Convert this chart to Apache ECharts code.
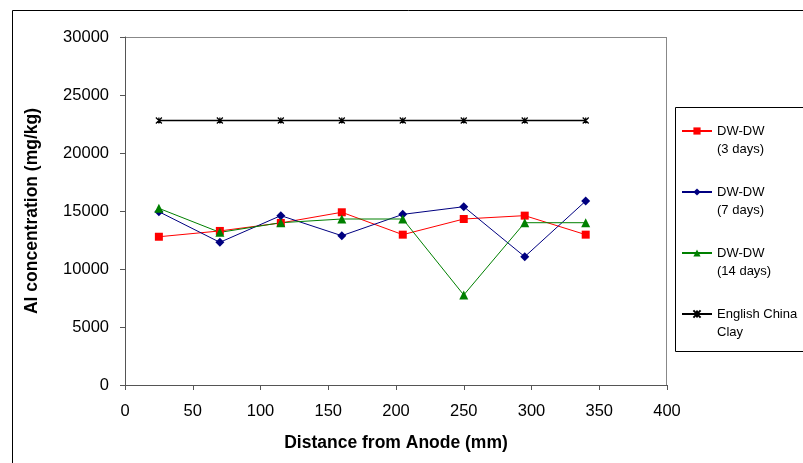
<!DOCTYPE html>
<html><head><meta charset="utf-8">
<script src="https://cdn.jsdelivr.net/npm/echarts@6/dist/echarts.min.js"></script>
<style>html,body{margin:0;padding:0;background:#fff}#c{width:803px;height:463px}</style>
</head><body><div id="c"></div>
<script>
const xValues = [25, 70, 115, 160, 205, 250, 295, 340];
const dw3 = [12780, 13280, 13970, 14890, 12960, 14310, 14600, 12960];
const dw7 = [14940, 12300, 14600, 12870, 14710, 15370, 11060, 15860];
const dw14 = [15230, 13160, 13990, 14310, 14310, 7760, 13990, 13990];
const ecc = [22800, 22800, 22800, 22800, 22800, 22800, 22800, 22800];
const seriesNames = ['DW-DW\n(3 days)', 'DW-DW\n(7 days)', 'DW-DW\n(14 days)', 'English China\nClay'];

const pair = arr => xValues.map((x, i) => [x, arr[i]]);
const F = 'Liberation Sans, Arial, sans-serif';
const chart = echarts.init(document.getElementById('c'), null, {renderer: 'canvas'});
chart.setOption({
  animation: false,
  backgroundColor: '#fff',
  graphic: [
    {type: 'rect', shape: {x: 12.5, y: 10.5, width: 800, height: 460}, style: {fill: 'none', stroke: '#000', lineWidth: 1}, z: 0},
    {type: 'rect', shape: {x: 675.5, y: 107.5, width: 140, height: 244}, style: {fill: 'none', stroke: '#000', lineWidth: 1}, z: 0},
    {type: 'line', shape: {x1: 125, y1: 37.5, x2: 667, y2: 37.5}, style: {stroke: '#888', lineWidth: 1}},
    {type: 'line', shape: {x1: 666.5, y1: 37, x2: 666.5, y2: 385}, style: {stroke: '#888', lineWidth: 1}}
  ],
  grid: {left: 125, right: 136, top: 37, bottom: 78, containLabel: false},
  legend: {
    orient: 'vertical', left: 676, top: 99, itemGap: 7, itemWidth: 30, itemHeight: 9,
    formatter: n => '\n' + n,
    textStyle: {fontFamily: F, fontSize: 13, color: '#000', lineHeight: 18},
    data: seriesNames
  },
  xAxis: {
    type: 'value', min: 0, max: 400, interval: 50,
    name: 'Distance from Anode (mm)', nameLocation: 'middle', nameGap: 49,
    nameTextStyle: {fontFamily: F, fontSize: 17.5, fontWeight: 'bold', color: '#000'},
    axisLine: {show: true, lineStyle: {color: '#555', width: 1}},
    axisTick: {show: true, inside: false, length: 5, lineStyle: {color: '#555'}},
    axisLabel: {fontFamily: F, fontSize: 16.5, color: '#000', margin: 18},
    splitLine: {show: false}
  },
  yAxis: {
    type: 'value', min: 0, max: 30000, interval: 5000,
    name: 'Al concentration (mg/kg)', nameLocation: 'middle', nameGap: 84, nameRotate: 90,
    nameTextStyle: {fontFamily: F, fontSize: 17.5, fontWeight: 'bold', color: '#000'},
    axisLine: {show: true, lineStyle: {color: '#555', width: 1}},
    axisTick: {show: true, inside: false, length: 5, lineStyle: {color: '#555'}},
    axisLabel: {fontFamily: F, fontSize: 16.5, color: '#000', margin: 16, formatter: v => String(v)},
    splitLine: {show: false}
  },
  series: [
    {name: seriesNames[0], type: 'line', data: pair(dw3), symbol: 'rect', symbolSize: 8,
     lineStyle: {color: '#ff0000', width: 1}, itemStyle: {color: '#ff0000'}},
    {name: seriesNames[1], type: 'line', data: pair(dw7), symbol: 'diamond', symbolSize: 9,
     lineStyle: {color: '#000080', width: 1}, itemStyle: {color: '#000080'}},
    {name: seriesNames[2], type: 'line', data: pair(dw14), symbol: 'triangle', symbolSize: 9,
     lineStyle: {color: '#008000', width: 1}, itemStyle: {color: '#008000'}},
    {name: seriesNames[3], type: 'line', data: pair(ecc),
     symbol: 'path://M0,0L10,10M10,0L0,10M5,0L5,10', symbolSize: 6,
     lineStyle: {color: '#000', width: 1.5}, itemStyle: {color: '#000', borderColor: '#000', borderWidth: 1.2}}
  ]
});
</script></body></html>
